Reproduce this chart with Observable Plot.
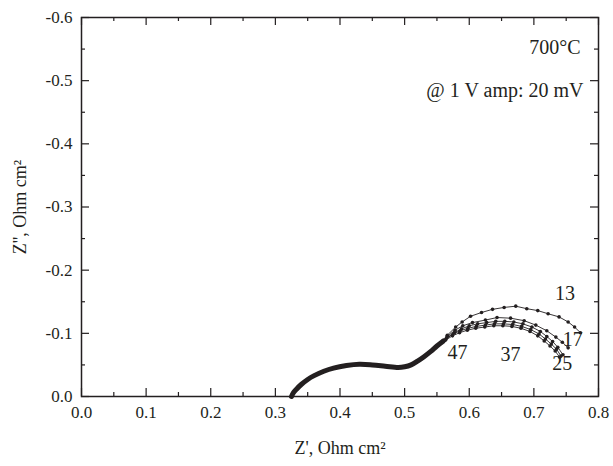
<!DOCTYPE html>
<html>
<head>
<meta charset="utf-8">
<script src="https://cdn.jsdelivr.net/npm/d3@7"></script>
<script src="https://cdn.jsdelivr.net/npm/@observablehq/plot@0.6"></script>
<style>
  html, body { margin: 0; padding: 0; background: #fff; }
  #chart { width: 613px; height: 466px; }
  #chart svg text { font-family: 'Liberation Serif', 'Times New Roman', serif; }
</style>
</head>
<body>
<div id="chart"></div>
<script>
// ---- data ----
// shared high-frequency arc (all series overlap here)
const sharedX = [0.325, 0.328, 0.333, 0.340, 0.350, 0.360, 0.375, 0.390, 0.410, 0.430, 0.450, 0.470, 0.490, 0.500, 0.510, 0.520, 0.530, 0.540, 0.550, 0.560];
const sharedY = [0.000, -0.006, -0.012, -0.019, -0.027, -0.033, -0.040, -0.045, -0.049, -0.051, -0.050, -0.048, -0.046, -0.047, -0.050, -0.056, -0.063, -0.071, -0.080, -0.088];

const seriesNames = ["13", "17", "25", "37", "47"];

const x13 = [0.560, 0.566, 0.579, 0.589, 0.602, 0.619, 0.636, 0.654, 0.672, 0.689, 0.706, 0.722, 0.739, 0.753, 0.763, 0.772];
const y13 = [-0.088, -0.097, -0.110, -0.118, -0.127, -0.133, -0.138, -0.141, -0.143, -0.139, -0.136, -0.131, -0.126, -0.118, -0.110, -0.101];

const x17 = [0.560, 0.566, 0.578, 0.590, 0.605, 0.625, 0.643, 0.664, 0.685, 0.703, 0.720, 0.734, 0.744, 0.753];
const y17 = [-0.088, -0.095, -0.105, -0.112, -0.117, -0.121, -0.125, -0.124, -0.120, -0.113, -0.104, -0.094, -0.086, -0.077];

const x25 = [0.560, 0.565, 0.577, 0.588, 0.600, 0.613, 0.627, 0.641, 0.655, 0.669, 0.683, 0.697, 0.710, 0.720, 0.729, 0.737, 0.745];
const y25 = [-0.088, -0.093, -0.101, -0.107, -0.112, -0.115, -0.117, -0.119, -0.119, -0.118, -0.115, -0.110, -0.103, -0.095, -0.087, -0.078, -0.066];

const x37 = [0.560, 0.564, 0.575, 0.586, 0.598, 0.611, 0.625, 0.639, 0.653, 0.667, 0.681, 0.695, 0.708, 0.718, 0.727, 0.735, 0.742];
const y37 = [-0.088, -0.091, -0.099, -0.104, -0.108, -0.111, -0.113, -0.115, -0.115, -0.114, -0.111, -0.106, -0.099, -0.091, -0.083, -0.075, -0.064];

const x47 = [0.560, 0.563, 0.574, 0.585, 0.597, 0.610, 0.624, 0.638, 0.652, 0.666, 0.680, 0.694, 0.706, 0.716, 0.725, 0.733, 0.740];
const y47 = [-0.088, -0.089, -0.096, -0.101, -0.105, -0.108, -0.110, -0.112, -0.112, -0.111, -0.108, -0.103, -0.096, -0.088, -0.080, -0.072, -0.062];

// series label positions (data units)
const labelX = [0.748, 0.760, 0.744, 0.664, 0.582];
const labelY = [-0.163, -0.090, -0.052, -0.066, -0.070];

// ticks
const xMajor = [0.0, 0.1, 0.2, 0.3, 0.4, 0.5, 0.6, 0.7, 0.8];
const xMinor = [0.05, 0.15, 0.25, 0.35, 0.45, 0.55, 0.65, 0.75];
const yMajor = [0.0, -0.1, -0.2, -0.3, -0.4, -0.5, -0.6];
const yMinor = [-0.05, -0.15, -0.25, -0.35, -0.45, -0.55];

const xTitle = "Z', Ohm cm²";
const yTitle = "Z'', Ohm cm²";
const note1 = "700°C";
const note2 = "@ 1 V amp: 20 mV";

// ---- build tables ----
const sharedRows = sharedX.map((x, i) => ({x, y: sharedY[i]}));
const seriesX = [x13, x17, x25, x37, x47];
const seriesY = [y13, y17, y25, y37, y47];
const rows = [];
seriesNames.forEach((name, k) => {
  seriesX[k].forEach((x, i) => rows.push({series: name, x, y: seriesY[k][i]}));
});
const labels = seriesNames.map((name, i) => ({name, x: labelX[i], y: labelY[i]}));

const ink = "#231f20";
const serif = "'Liberation Serif', 'Times New Roman', serif";
const fmt = d => d.toFixed(1);

const W = 613, H = 466, mL = 81, mR = 15, mT = 17, mB = 70;
const fw = W - mL - mR, fh = H - mT - mB;
const major = 8, minor = 4;

const chart = Plot.plot({
  width: W,
  height: H,
  marginLeft: mL,
  marginRight: mR,
  marginTop: mT,
  marginBottom: mB,
  style: {fontFamily: serif, fontSize: "17px", color: ink, background: "#fff"},
  x: {domain: [0, 0.8], axis: null},
  y: {domain: [0, -0.6], axis: null},
  marks: [
    // inward ticks on all four sides
    Plot.tickX(xMajor, {x: d => d, insetTop: fh - major, stroke: ink, strokeWidth: 1.2}),
    Plot.tickX(xMinor, {x: d => d, insetTop: fh - minor, stroke: ink, strokeWidth: 1.2}),
    Plot.tickX(xMajor, {x: d => d, insetBottom: fh - major, stroke: ink, strokeWidth: 1.2}),
    Plot.tickX(xMinor, {x: d => d, insetBottom: fh - minor, stroke: ink, strokeWidth: 1.2}),
    Plot.tickY(yMajor, {y: d => d, insetRight: fw - major, stroke: ink, strokeWidth: 1.2}),
    Plot.tickY(yMinor, {y: d => d, insetRight: fw - minor, stroke: ink, strokeWidth: 1.2}),
    Plot.tickY(yMajor, {y: d => d, insetLeft: fw - major, stroke: ink, strokeWidth: 1.2}),
    Plot.tickY(yMinor, {y: d => d, insetLeft: fw - minor, stroke: ink, strokeWidth: 1.2}),
    // tick labels
    Plot.axisX(xMajor, {anchor: "bottom", tickSize: 0, tickPadding: 9, tickFormat: fmt, label: null, fontSize: 17, fontFamily: serif, fill: ink}),
    Plot.axisY(yMajor, {anchor: "left", tickSize: 0, tickPadding: 9, tickFormat: fmt, label: null, fontSize: 17, fontFamily: serif, fill: ink}),
    Plot.frame({stroke: ink, strokeWidth: 1.5}),
    // shared dense arc
    Plot.line(sharedRows, {x: "x", y: "y", stroke: ink, strokeWidth: 5, curve: "catmull-rom"}),
    // individual series
    Plot.line(rows, {x: "x", y: "y", z: "series", stroke: ink, strokeWidth: 0.9}),
    Plot.dot(rows, {x: "x", y: "y", r: 1.8, fill: ink, stroke: null}),
    // series labels
    Plot.text(labels, {x: "x", y: "y", text: "name", fontSize: 20, fontFamily: serif, fill: ink}),
    // annotations
    Plot.text([note1], {frameAnchor: "top-right", dx: -18, dy: 30, textAnchor: "end", lineAnchor: "middle", fontSize: 20, fontFamily: serif, fill: ink}),
    Plot.text([note2], {frameAnchor: "top-right", dx: -15, dy: 73, textAnchor: "end", lineAnchor: "middle", fontSize: 20, fontFamily: serif, fill: ink}),
    // axis titles
    Plot.text([xTitle], {frameAnchor: "bottom", dy: 52, textAnchor: "middle", lineAnchor: "middle", fontSize: 18, fontFamily: serif, fill: ink}),
    Plot.text([yTitle], {frameAnchor: "left", dx: -61, rotate: -90, textAnchor: "middle", lineAnchor: "middle", fontSize: 18, fontFamily: serif, fill: ink})
  ]
});
document.getElementById("chart").appendChild(chart);
</script>
</body>
</html>
